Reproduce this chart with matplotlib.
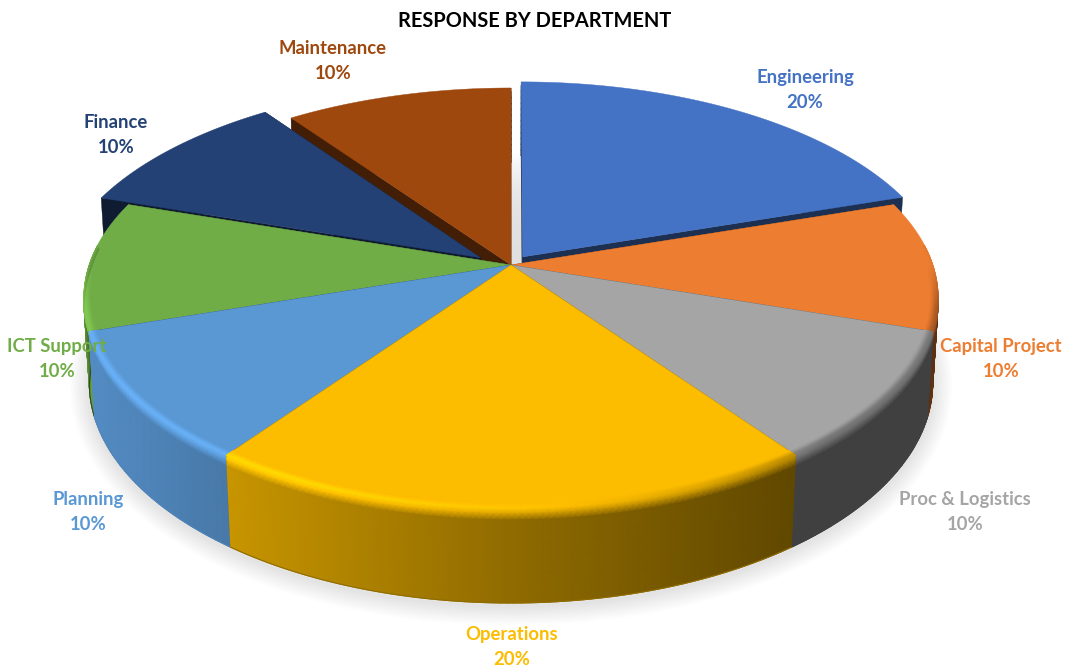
import numpy as np
import matplotlib
matplotlib.use("Agg")
import matplotlib.pyplot as plt
from matplotlib.colors import to_rgb
from matplotlib.patches import Polygon

departments = ["Engineering", "Capital Project", "Proc & Logistics", "Operations",
               "Planning", "ICT Support", "Finance", "Maintenance"]
shares = [20, 10, 10, 20, 10, 10, 10, 10]
colors = ["#4472c4", "#ed7d31", "#a5a5a5", "#fcbc00",
          "#5a98d4", "#70ad47", "#234175", "#9e480e"]

# how far each slice is pulled out of the pie, in pie radii
pull_u = [0.028, 0, 0, 0, 0, 0, -0.073, 0]
pull_v = [0.040, 0, 0, 0, 0, 0, 0.036, 0]

label_x = [805, 1001, 965, 512, 88, 57, 116, 333]
label_y = [90, 359, 512, 647, 512, 359, 135, 61]

# back to front, so nearer slices cover the walls behind them
DRAW_ORDER = [7, 6, 0, 1, 5, 2, 4, 3]

CX, CY = 511, 265
A, B, C = 422, 205, 84
K, M = 0.158, 0.013
RIM_WIDTH = 0.02
BEVEL = 0.11


def project(u, v, z=0.0):
    w = 1 + K * v - M * z
    return CX + A * u / w, CY - (B * v + C * z) / w


def wall_shade(x):
    return np.interp(x, [90, 233, 511, 790, 1000], [0.92, 0.79, 0.57, 0.385, 0.385])


def rim_shade(x):
    return np.interp(x, [90, 300, 520, 700, 830], [1.18, 1.16, 1.05, 0.9, 0.72])


def blend(a, b, t):
    t = t * t * (3 - 2 * t)
    return a + (b - a) * t


def draw_outer(ax, base, start, end, offset, zorder):
    # wall and rounded rim of one slice, shaded by screen position
    theta = np.linspace(start, end, 90)
    profile = np.linspace(-1, 1, 26)
    th, p = np.meshgrid(theta, profile, indexing="ij")
    near = np.clip(-np.cos(th) / 0.2, 0, 1)
    radius = np.where(p < 0, 1 + p * RIM_WIDTH, 1.0 - 0.004 * (1 - near))
    depth = np.where(p > 0, -p, 0.0)
    u = radius * np.sin(th) + offset[0]
    v = radius * np.cos(th) + offset[1]
    x, y = project(u, v, depth)

    rim = 1 + (rim_shade(x) - 1) * near
    wall = 0.42 + (wall_shade(x) - 0.42) * near
    bevel = np.clip(p / BEVEL, 0, 1)
    inner = np.clip(p + 1, 0, 1)
    shade = np.where(p < 0, blend(np.ones_like(p), rim, inner), blend(rim, wall, bevel))
    rgb = np.clip(shade[..., None] * np.array(base), 0, 1)

    n = np.argmax(p[0] >= 0)
    ax.pcolormesh(x[:, n:], y[:, n:], rgb[:, n:], shading="gouraud", zorder=zorder)
    if np.cos(theta).min() < 0:
        ax.plot(x[:, -1], y[:, -1], color=tuple(rgb[len(theta) // 2, -1]), lw=0.8, zorder=zorder)

    # the rim only shows on the near half of the pie
    keep = np.cos(theta) < 0.1
    return x[keep, :n + 1], y[keep, :n + 1], rgb[keep, :n + 1]


def draw_cut_faces(ax, base, start, end, offset, zorder):
    dark = tuple(np.array(base) * 0.42)
    for edge in (start, end):
        corners = [(offset[0], offset[1], 0), (np.sin(edge) + offset[0], np.cos(edge) + offset[1], 0),
                   (np.sin(edge) + offset[0], np.cos(edge) + offset[1], -1), (offset[0], offset[1], -1)]
        pts = [project(*c) for c in corners]
        ax.add_patch(Polygon(pts, closed=True, fc=dark, ec=dark, lw=0.3, zorder=zorder))


def draw_slice(ax, i, start, end):
    base = to_rgb(colors[i])
    offset = (pull_u[i], pull_v[i])
    zorder = 10 + 4 * DRAW_ORDER.index(i)

    # slices at the back show their cut faces over the wall, the others behind it
    at_back = np.cos((start + end) / 2) > 0.5
    draw_cut_faces(ax, base, start, end, offset, zorder + (1 if at_back else -1))
    rim_x, rim_y, rim_rgb = draw_outer(ax, base, start, end, offset, zorder)

    # top face
    theta = np.linspace(start, end, 120)
    x, y = project(np.sin(theta) + offset[0], np.cos(theta) + offset[1])
    apex = project(*offset)
    top = np.column_stack([np.r_[apex[0], x], np.r_[apex[1], y]])
    ax.add_patch(Polygon(top, closed=True, fc=base, ec=base, lw=0.3, zorder=zorder + 2))
    if len(rim_x) > 1:
        ax.pcolormesh(rim_x, rim_y, rim_rgb, shading="gouraud", zorder=zorder + 3)


def draw_shadow(ax):
    theta = np.radians(np.linspace(88, 272, 200))
    x, y = project(np.sin(theta), np.cos(theta), -1.0)
    for lw in np.arange(2, 30, 2):
        ax.plot(x, y + 3, color="black", lw=lw, alpha=0.009, zorder=1, solid_capstyle="round")


def draw_gap_shade(ax):
    # faint grey seen in the slot next to the pulled out first slice
    v = np.linspace(0, 0.6, 30)
    u = np.array([0.0, pull_u[0]])
    uu, vv = np.meshgrid(u, v)
    x, y = project(uu, vv)
    fade = np.clip(vv[..., None] / 0.6, 0, 1)
    rgb = 0.88 + (1.0 - 0.88) * fade ** 3
    ax.pcolormesh(x, y, np.repeat(rgb, 3, axis=2), shading="gouraud", zorder=2)


def main():
    fig = plt.figure(figsize=(10.65, 6.67), dpi=100)
    ax = fig.add_axes([0, 0, 1, 1])
    ax.set_xlim(0, 1065)
    ax.set_ylim(667, 0)
    ax.set_axis_off()

    draw_shadow(ax)
    draw_gap_shade(ax)

    edges = np.radians(np.cumsum([0] + shares) / sum(shares) * 360)
    for i in DRAW_ORDER:
        draw_slice(ax, i, edges[i], edges[i + 1])

    for name, share, color, lx, ly in zip(departments, shares, colors, label_x, label_y):
        ax.text(lx, ly, f"{name}\n{share}%", color=color, fontsize=13.3, family="Lato", weight="bold",
                ha="center", va="center", linespacing=1.62, zorder=60)

    ax.text(535, 21, "RESPONSE BY DEPARTMENT", color="black", fontsize=14.4, family="Lato", weight="bold",
            ha="center", va="center", zorder=60)

    fig.savefig("out.png", dpi=100)


if __name__ == "__main__":
    main()
